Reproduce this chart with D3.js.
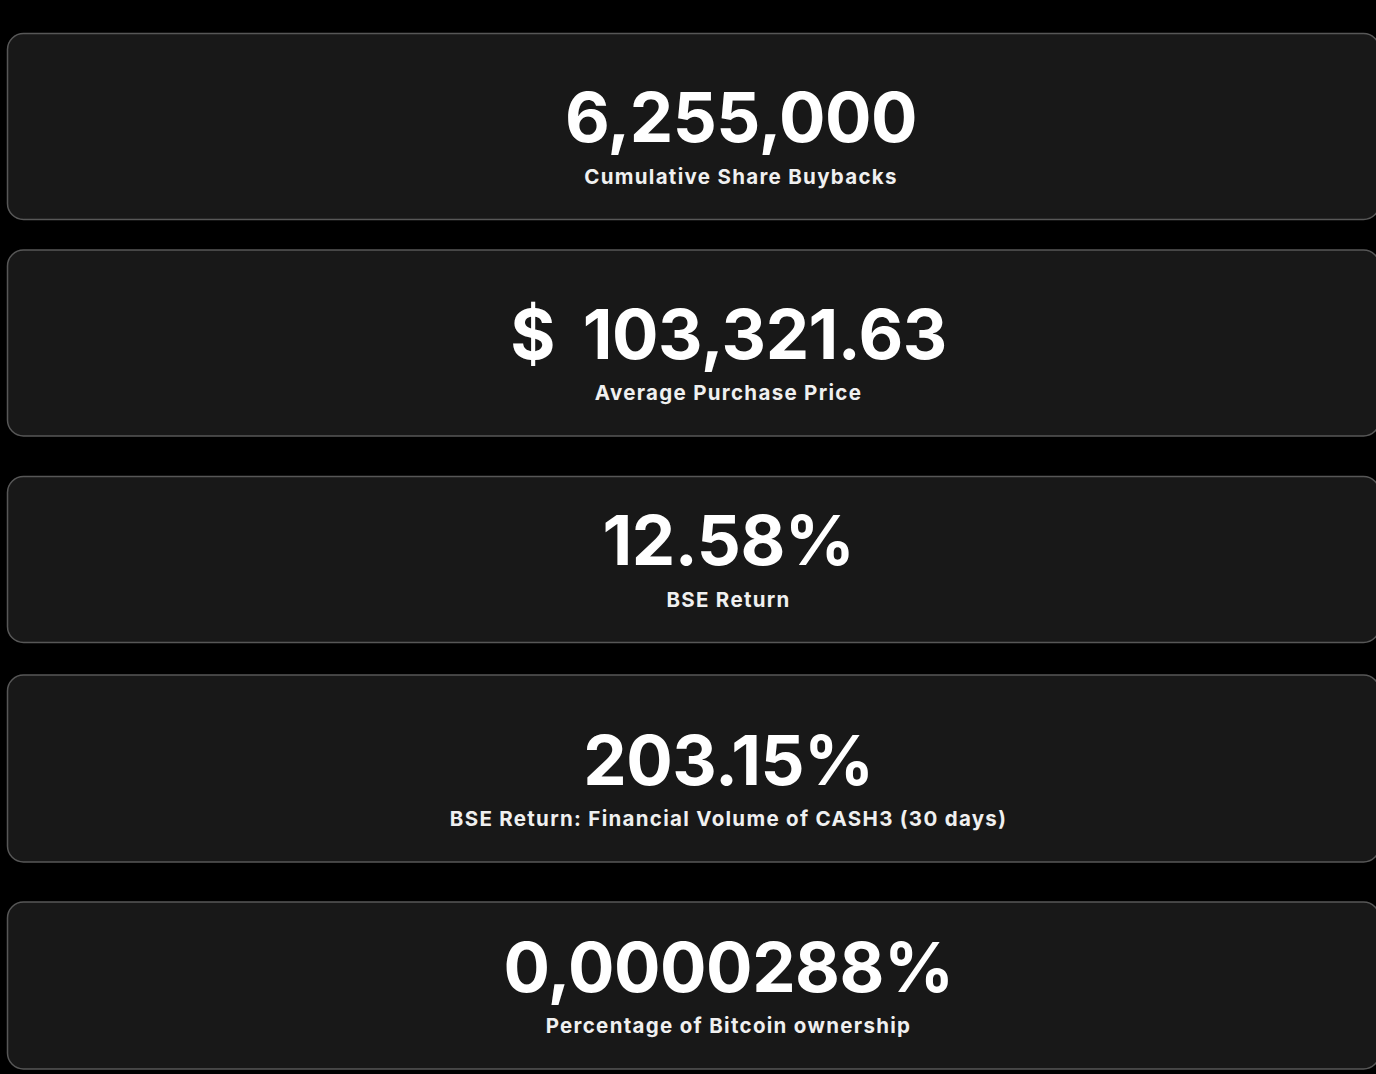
<!DOCTYPE html>
<html lang="en">
<head>
  <meta charset="UTF-8">
  <title>Buyback KPIs</title>
  <script src="https://cdn.jsdelivr.net/npm/d3@7"></script>
  <style>
    html, body { margin: 0; padding: 0; background: #000; overflow: hidden; }
    svg { display: block; }
  </style>
</head>
<body>
<svg id="kpis"></svg>
<script>
  // KPI values and their captions
  const values = ["6,255,000", "$ 103,321.63", "12.58%", "203.15%", "0,0000288%"]
  const labels = [
    "Cumulative Share Buybacks",
    "Average Purchase Price",
    "BSE Return",
    "BSE Return: Financial Volume of CASH3 (30 days)",
    "Percentage of Bitcoin ownership"
  ]

  const width = 1376
  const height = 1074

  // card layout (heights + gaps)
  const cardH = [186, 186, 166, 187, 167]
  const gaps = [30.5, 40.5, 32.5, 40]
  const textX = [741, 728.5, 728.5, 728.5, 728.5]

  let y = 33.5
  const cards = values.map((v, i) => {
    const c = { value: v, label: labels[i], top: y, h: cardH[i], cx: textX[i] }
    y += cardH[i] + (gaps[i] || 0)
    return c
  })

  const svg = d3.select("#kpis")
    .attr("width", width)
    .attr("height", height)

  const g = svg.selectAll("g.card")
    .data(cards)
    .join("g")
    .attr("class", "card")
    .attr("transform", d => `translate(0,${d.top})`)

  g.append("rect")
    .attr("x", 7.5)
    .attr("y", 0)
    .attr("width", 1372)
    .attr("height", d => d.h)
    .attr("rx", 16)
    .attr("fill", "#181818")
    .attr("stroke", "#575757")
    .attr("stroke-width", 1.5)

  g.append("text")
    .attr("x", d => d.cx)
    .attr("y", d => d.h - 77.5)
    .attr("text-anchor", "middle")
    .attr("fill", "#fff")
    .style("font-family", "Inter, 'Open Sans', sans-serif")
    .style("font-weight", 700)
    .style("font-size", "69px")
    .style("letter-spacing", "-0.5px")
    .style("word-spacing", "12px")
    .text(d => d.value)

  g.append("text")
    .attr("x", d => d.cx)
    .attr("y", d => d.h - 36)
    .attr("text-anchor", "middle")
    .attr("fill", "#f0f0f0")
    .style("font-family", "Inter, 'Open Sans', sans-serif")
    .style("font-weight", 700)
    .style("font-size", "20.5px")
    .style("letter-spacing", "1.3px")
    .text(d => d.label)
</script>
</body>
</html>
